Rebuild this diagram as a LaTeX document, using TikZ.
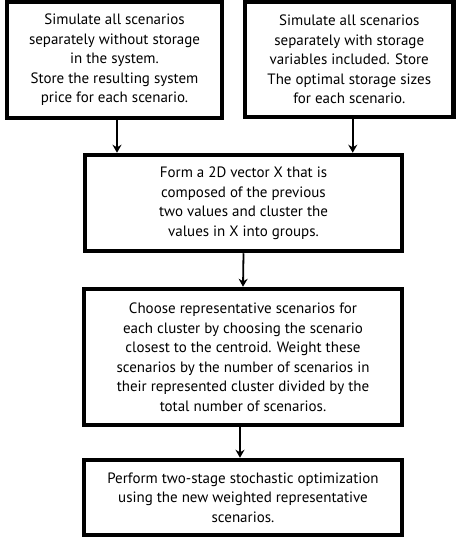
\documentclass[tikz,border=0pt]{standalone}
\usepackage{fontspec}
\setmainfont{PT Sans}
\usetikzlibrary{arrows.meta}

\begin{document}
\begin{tikzpicture}[x=1pt,y=-1pt,
  stepbox/.style={draw,line width=4.5pt,align=center,inner sep=0pt,
    font=\fontsize{15}{19.5}\selectfont},
  flow/.style={-{Stealth[length=8pt,width=9pt]},line width=1.8pt}
]
  \useasboundingbox (0,0) rectangle (456,537);

  \node[stepbox,minimum width=215pt,minimum height=116pt] (nostore) at (114.5,60)
    {Simulate all scenarios\\separately without storage\\in the system.\\Store the resulting system\\price for each scenario.};
  \node[stepbox,minimum width=208.5pt,minimum height=115pt] (withstore) at (349.25,59.5)
    {Simulate all scenarios\\separately with storage\\variables included. Store\\The optimal storage sizes\\for each scenario.};
  \node[stepbox,minimum width=317pt,minimum height=96pt] (form) at (243.5,203)
    {Form a 2D vector X that is\\composed of the previous\\two values and cluster the\\values in X into groups.};
  \node[stepbox,minimum width=318pt,minimum height=136pt] (choose) at (243,357)
    {Choose representative scenarios for\\each cluster by choosing the scenario\\closest to the centroid. Weight these\\scenarios by the number of scenarios in\\their represented cluster divided by the\\total number of scenarios.};
  \node[stepbox,minimum width=318pt,minimum height=75pt] (perform) at (243,497.5)
    {Perform two-stage stochastic optimization\\using the new weighted representative\\scenarios.};

  \draw[flow] ([xshift=2.5pt]nostore.south) -- ([xshift=2.5pt]nostore.south |- form.north);
  \draw[flow] ([xshift=3.5pt]withstore.south) -- ([xshift=3.5pt]withstore.south |- form.north);
  \draw[flow] (form.south) -- (choose.north);
  \draw[flow] ([xshift=-3pt]choose.south) -- ([xshift=-3pt]perform.north);
\end{tikzpicture}
\end{document}
